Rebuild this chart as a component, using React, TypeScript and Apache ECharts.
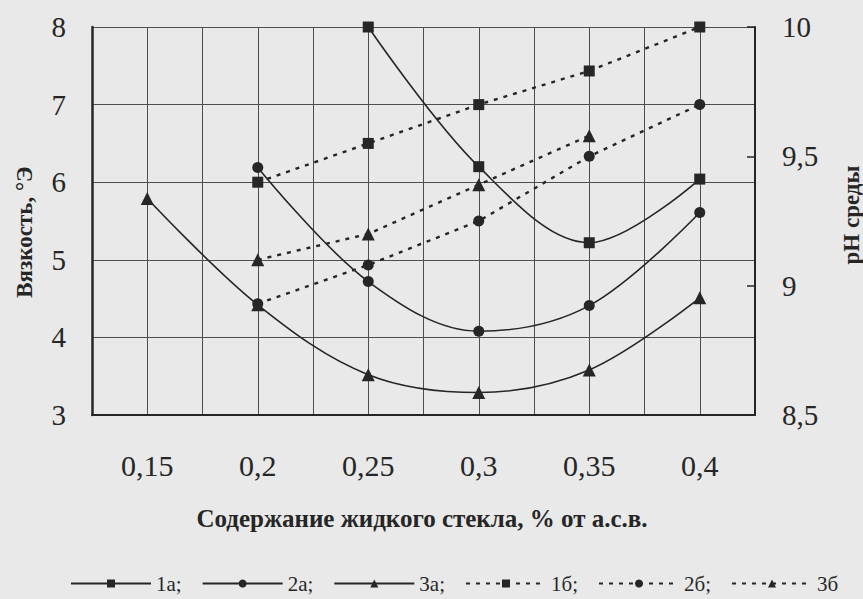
import React, { useEffect, useRef } from "react";
import * as echarts from "echarts";

// Содержание жидкого стекла, % от а.с.в.
const xValues = [0.15, 0.2, 0.25, 0.3, 0.35, 0.4];

// Вязкость, °Э (left axis) — solid lines
const visc1a = [null, null, 8.0, 6.2, 5.22, 6.04];
const visc2a = [null, 6.19, 4.72, 4.08, 4.41, 5.61];
const visc3a = [5.79, 4.42, 3.52, 3.29, 3.58, 4.51];

// pH среды (right axis) — dotted lines
const ph1b = [null, 9.4, 9.55, 9.7, 9.83, 10.0];
const ph2b = [null, 8.93, 9.08, 9.25, 9.5, 9.7];
const ph3b = [null, 9.1, 9.2, 9.39, 9.58, null];

const seriesNames = ["1а", "2а", "3а", "1б", "2б", "3б"];

const xAxisName = "Содержание жидкого стекла, % от а.с.в.";
const leftAxisName = "Вязкость, °Э";
const rightAxisName = "pH среды";

export default function App() {
  const ref = useRef<HTMLDivElement>(null);

  useEffect(() => {
    if (!ref.current) return;
    const chart = echarts.init(ref.current, null, { renderer: "svg" });
    const serif = "'Liberation Serif', 'Times New Roman', serif";
    const ink = "#262626";
    const gridInk = "#4d4d4d";

    const pair = (vals: (number | null)[]) =>
      xValues
        .map((x, i) => (vals[i] == null ? null : [x, vals[i] as number]))
        .filter((p) => p !== null);

    const solid = { type: "solid", width: 1.6, color: ink };
    const dotted = { type: [4, 6], width: 2.4, color: ink };

    const mk = (
      name: string,
      vals: (number | null)[],
      yAxisIndex: number,
      symbol: string,
      size: number,
      isSolid: boolean
    ) => ({
      name,
      type: "line",
      yAxisIndex,
      data: pair(vals),
      symbol,
      symbolSize: size,
      smooth: isSolid ? 0.35 : false,
      lineStyle: isSolid ? solid : dotted,
      itemStyle: { color: ink, borderWidth: 0 },
      z: 5,
    });

    const fmt = (v: number) => String(Math.round(v * 100) / 100).replace(".", ",");

    chart.setOption({
      animation: false,
      backgroundColor: "#e9e9e9",
      textStyle: { fontFamily: serif },
      grid: { left: 92, right: 108, top: 27, bottom: 184 },
      xAxis: {
        type: "value",
        min: 0.125,
        max: 0.425,
        interval: 0.025,
        axisLine: { show: true, onZero: false, lineStyle: { color: ink, width: 2 } },
        axisTick: { show: false },
        splitLine: { show: true, lineStyle: { color: gridInk, width: 1 } },
        axisLabel: {
          formatter: (v: number) => {
            const k = v * 20;
            return Math.abs(k - Math.round(k)) < 1e-6 ? fmt(v) : "";
          },
          fontSize: 30,
          fontFamily: serif,
          color: ink,
          margin: 35,
        },
      },
      yAxis: [
        {
          type: "value",
          position: "left",
          min: 3,
          max: 8,
          interval: 1,
          axisLine: { show: true, lineStyle: { color: ink, width: 2.5 } },
          axisTick: { show: false },
          splitLine: { show: true, lineStyle: { color: gridInk, width: 1 } },
          axisLabel: { fontSize: 29, fontFamily: serif, color: ink, margin: 26 },
        },
        {
          type: "value",
          position: "right",
          min: 8.5,
          max: 10,
          interval: 0.5,
          axisLine: { show: true, lineStyle: { color: ink, width: 2 } },
          axisTick: { show: true, inside: true, length: 8, lineStyle: { color: ink, width: 1.5 } },
          splitLine: { show: false },
          axisLabel: {
            formatter: (v: number) => fmt(v),
            fontSize: 29,
            fontFamily: serif,
            color: ink,
            margin: 27,
          },
        },
      ],
      legend: {
        left: 65,
        top: 568,
        itemWidth: 80,
        itemHeight: 10,
        itemGap: 20,
        data: seriesNames,
        formatter: (name: string) => (name === "3б" ? name : name + ";"),
        textStyle: { fontSize: 21, fontFamily: serif, color: ink },
      },
      graphic: [
        {
          type: "text",
          x: 24,
          y: 232,
          rotation: Math.PI / 2,
          style: {
            text: leftAxisName,
            font: "bold 23px 'Liberation Serif', serif",
            fill: ink,
            textAlign: "center",
            textVerticalAlign: "middle",
          },
        },
        {
          type: "text",
          x: 851,
          y: 215,
          rotation: Math.PI / 2,
          style: {
            text: rightAxisName,
            font: "bold 23px 'Liberation Serif', serif",
            fill: ink,
            textAlign: "center",
            textVerticalAlign: "middle",
          },
        },
        {
          type: "text",
          x: 422,
          y: 518,
          style: {
            text: xAxisName,
            font: "bold 25px 'Liberation Serif', serif",
            fill: ink,
            textAlign: "center",
            textVerticalAlign: "middle",
          },
        },
      ],
      series: [
        mk(seriesNames[0], visc1a, 0, "rect", 11, true),
        mk(seriesNames[1], visc2a, 0, "circle", 11, true),
        mk(seriesNames[2], visc3a, 0, "triangle", 13, true),
        mk(seriesNames[3], ph1b, 1, "rect", 11, false),
        mk(seriesNames[4], ph2b, 1, "circle", 11, false),
        mk(seriesNames[5], ph3b, 1, "triangle", 13, false),
      ],
    });

    return () => chart.dispose();
  }, []);

  return (
    <div
      ref={ref}
      style={{ position: "fixed", left: 0, top: 0, width: 863, height: 599 }}
    />
  );
}
